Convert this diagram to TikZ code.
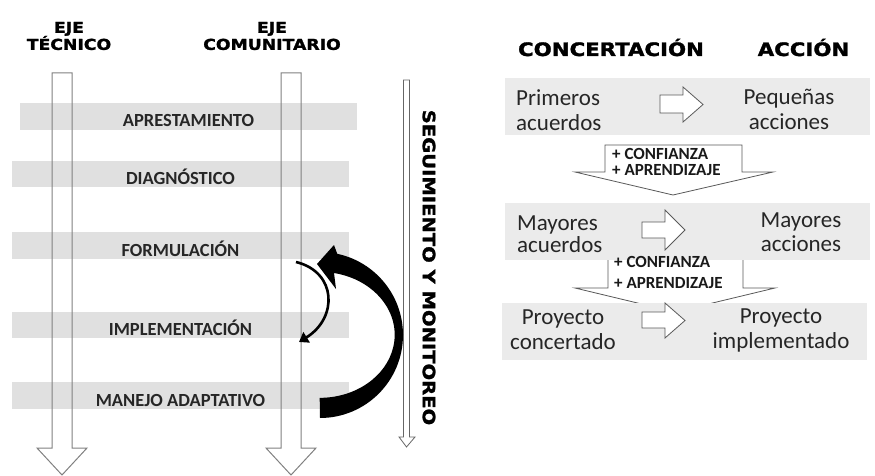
\documentclass[tikz,border=0pt]{standalone}
\usepackage{fontspec}
\setmainfont{Carlito}
\newfontfamily\titlefont[FakeStretch=1.15,FakeBold=1.6]{DejaVu Sans Bold}
\usetikzlibrary{arrows.meta,positioning}

\begin{document}
\begin{tikzpicture}[x=1pt,y=-1pt,
    stageband/.style={fill=black!12, minimum width=337pt, minimum height=26.5pt,
      inner sep=0pt, text height=21pt, text depth=0pt, text=black!85,
      font=\fontsize{18.5}{20}\selectfont\bfseries},
    pairband/.style={fill=black!8, minimum width=365pt, minimum height=57pt, inner sep=0pt},
    axistitle/.style={align=center, inner sep=0pt, font=\titlefont\fontsize{15}{17}\selectfont},
    axisarrow/.style={draw=black!50, line width=1pt},
    blockarrow/.style={draw=black!65, fill=white, line width=0.8pt},
    words/.style={inner sep=0pt, text=black!85, font=\fontsize{23}{25}\selectfont},
    gain/.style={anchor=west, align=left, inner sep=0pt, text=black!90}]
  \useasboundingbox (0,0) rectangle (875,476);

  % Stages
  \node[stageband] (aprest) at (188.5,116.5) {APRESTAMIENTO};
  \node[stageband] (diag) at (180.5,174) {DIAGNÓSTICO};
  \node[stageband] (formul) at (180.5,245.5) {FORMULACIÓN};
  \node[stageband] (implem) at (180.5,325) {IMPLEMENTACIÓN};
  \node[stageband] (manejo) at (180.5,395.5) {MANEJO ADAPTATIVO};

  % Axes
  \node[axistitle] (tecnico) at (69,36) {EJE\\TÉCNICO};
  \node[axistitle] (comunit) at (272,36) {EJE\\COMUNITARIO};
  \draw[axisarrow] (52,73) -- (72,73) -- (72,448) -- (87,448) -- (62,475)
    -- (37,448) -- (52,448) -- cycle;
  \draw[axisarrow] (281,73) -- (301,73) -- (301,448) -- (316,448) -- (291,475)
    -- (266,448) -- (281,448) -- cycle;

  % Monitoring
  \draw[axisarrow, draw=black!60, line width=0.8pt] (403.5,80) -- (409.5,80)
    -- (409.5,437) -- (415,437) -- (406.5,447) -- (399,437) -- (403.5,437) -- cycle;
  \node[axistitle, font=\titlefont\fontsize{17}{17}\selectfont, rotate=-90]
    (seguim) at (429,267.5) {SEGUIMIENTO Y MONITOREO};

  % Feedback loops
  \fill (320,418) arc[start angle=90, end angle=-78, radius=83] -- (334,245)
    -- (317,264) -- (336,289) -- (334,273)
    arc[start angle=-79, end angle=90, x radius=75, y radius=63] -- cycle;
  \coordinate (loopA) at (296,262);
  \coordinate (loopB) at (299,342);
  \draw[line width=2.6pt, -{Triangle[length=9pt,width=12pt]}]
    (loopA) .. controls (337,272) and (338,318) .. (loopB);

  % Concertacion / accion
  \node[axistitle, font=\titlefont\fontsize{18.5}{20}\selectfont, anchor=base]
    (concert) at (611,56) {CONCERTACIÓN};
  \node[axistitle, font=\titlefont\fontsize{18.5}{20}\selectfont, anchor=base]
    (accion) at (803.5,56) {ACCIÓN};

  \draw[blockarrow] (608,255) -- (743,255) -- (743,288) -- (775,288) -- (675,312)
    -- (575,288) -- (608,288) -- cycle;
  \node[pairband] (pb1) at (687.5,106.5) {};
  \node[pairband] (pb2) at (687.5,231.5) {};
  \node[pairband] (pb3) at (684.5,331.5) {};
  \draw[blockarrow] (605,145) -- (742,145) -- (742,172) -- (773,172) -- (673,195)
    -- (575,172) -- (605,172) -- cycle;

  \draw[blockarrow] (660,95) -- (683,95) -- (683,87) -- (703,104.5) -- (683,122)
    -- (683,113) -- (660,113) -- cycle;
  \draw[blockarrow] (642,222) -- (665,222) -- (665,210) -- (685,230) -- (665,250)
    -- (665,238) -- (642,238) -- cycle;
  \draw[blockarrow] (642,312) -- (665,312) -- (665,303) -- (685,320.5) -- (665,338)
    -- (665,328) -- (642,328) -- cycle;

  \node[words, anchor=west, align=left] (primA) at (516,109.8) {Primeros\\acuerdos};
  \node[words, align=center] (primB) at (789,109.8) {Pequeñas\\acciones};
  \node[words, anchor=west, align=left, font=\fontsize{23}{22}\selectfont]
    (mayA) at (517,234.5) {Mayores\\acuerdos};
  \node[words, align=center, font=\fontsize{23}{24}\selectfont]
    (mayB) at (801,232.5) {Mayores\\acciones};
  \node[words, align=center] (proyA) at (563,330) {Proyecto\\concertado};
  \node[words, align=center] (proyB) at (781,330) {Proyecto\\implementado};

  \node[gain, font=\fontsize{17}{16}\selectfont\bfseries] (gainA)
    at (612,162.4) {+ CONFIANZA\\+ APRENDIZAJE};
  \node[gain, font=\fontsize{17}{21}\selectfont\bfseries] (gainB)
    at (614,272.9) {+ CONFIANZA\\+ APRENDIZAJE};
\end{tikzpicture}
\end{document}
